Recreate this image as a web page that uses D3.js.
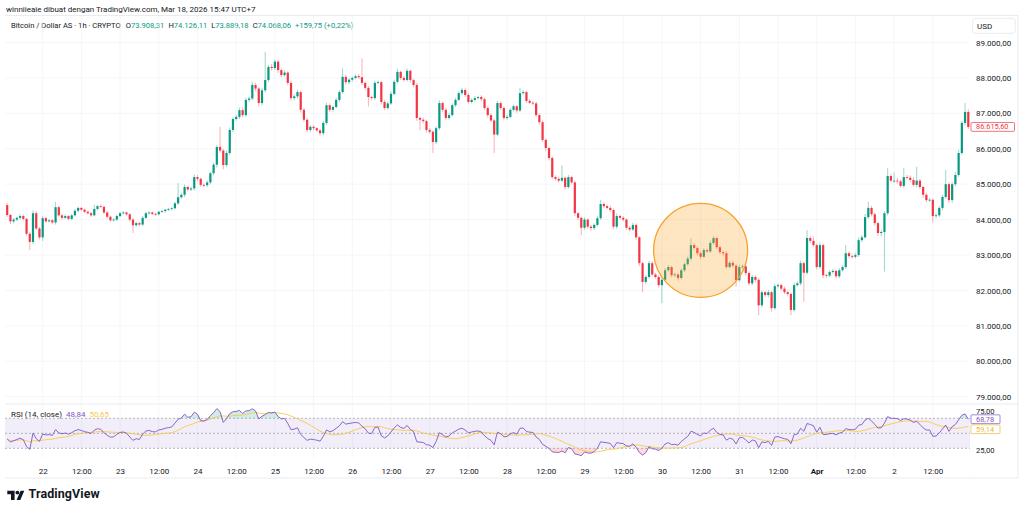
<!DOCTYPE html>
<html>
<head>
<meta charset="utf-8">
<script src="https://cdn.jsdelivr.net/npm/d3@7"></script>
<style>
  html, body { margin: 0; padding: 0; background: #fff; }
  svg { display: block; font-family: Roboto, "Noto Sans", sans-serif; }
</style>
</head>
<body>
<svg id="chart" width="1024" height="514"></svg>
<script>
// hourly closes, thousands of USD, Mar 21 13:00 -> Apr 2 23:00
const closes = [
  84.13, 83.95, 84.00, 84.05, 84.10, 84.02, 83.60, 83.37, 84.18, 83.75,
  83.50, 84.04, 83.95, 83.98, 83.92, 84.35, 84.12, 84.05, 84.10, 84.02,
  84.12, 84.25, 84.33, 84.28, 84.22, 84.18, 84.12, 84.30, 84.38, 84.36,
  84.20, 84.08, 83.98, 84.00, 84.10, 84.18, 84.20, 84.15, 84.00, 83.84,
  83.90, 83.86, 84.05, 84.18, 84.20, 84.16, 84.15, 84.22, 84.24, 84.28,
  84.30, 84.32, 84.46, 84.63, 84.70, 84.92, 84.85, 84.88, 85.20, 85.15,
  84.98, 84.97, 85.05, 85.31, 85.55, 86.05, 85.95, 85.54, 85.88, 86.53,
  86.84, 86.90, 87.09, 86.95, 87.38, 87.42, 87.80, 87.70, 87.29, 87.65,
  87.94, 88.31, 88.28, 88.46, 88.22, 88.08, 88.15, 87.86, 87.43, 87.48,
  87.60, 87.10, 86.82, 86.53, 86.62, 86.58, 86.52, 86.44, 86.73, 87.23,
  87.10, 87.18, 87.38, 87.60, 88.03, 87.88, 87.95, 88.00, 88.05, 88.02,
  87.86, 87.72, 87.46, 87.43, 87.86, 87.88, 87.32, 87.15, 87.28, 87.55,
  87.89, 88.17, 88.00, 87.94, 88.20, 87.94, 87.80, 86.87, 86.82, 86.78,
  86.53, 86.48, 86.19, 86.58, 87.29, 87.10, 86.87, 86.95, 87.23, 87.38,
  87.57, 87.66, 87.52, 87.32, 87.38, 87.43, 87.46, 87.40, 87.15, 86.95,
  86.80, 86.40, 87.29, 87.15, 86.87, 86.90, 87.10, 87.20, 87.08, 87.57,
  87.60, 87.35, 87.30, 87.28, 86.95, 86.75, 86.25, 86.02, 85.74, 85.20,
  85.15, 85.10, 85.18, 84.92, 85.20, 85.05, 84.18, 84.05, 83.77, 84.00,
  83.80, 83.76, 83.85, 84.04, 84.44, 84.38, 84.33, 84.27, 83.80, 84.10,
  84.05, 84.00, 83.77, 83.72, 83.85, 83.50, 82.77, 82.24, 82.38, 82.77,
  82.45, 82.38, 82.15, 82.30, 82.57, 82.66, 82.43, 82.45, 82.35, 82.57,
  82.74, 82.90, 83.28, 83.20, 83.05, 82.95, 83.14, 83.10, 83.34, 83.48,
  83.22, 83.08, 83.05, 82.66, 82.78, 82.70, 82.29, 82.66, 82.68, 82.49,
  82.20, 82.38, 82.30, 81.58, 81.95, 81.87, 81.95, 81.50, 82.12, 82.15,
  82.05, 81.95, 81.90, 81.45, 82.15, 82.20, 82.77, 82.50, 83.48, 83.40,
  83.28, 82.66, 83.28, 82.43, 82.42, 82.52, 82.55, 82.40, 82.57, 82.66,
  83.05, 82.97, 82.95, 83.00, 83.42, 83.50, 84.07, 84.33, 84.15, 83.90,
  83.62, 83.65, 84.18, 85.23, 85.10, 85.10, 85.08, 84.95, 85.20, 85.18,
  85.12, 84.98, 85.10, 84.92, 84.70, 84.55, 84.56, 84.10, 84.12, 84.33,
  84.64, 85.00, 84.55, 85.00, 85.26, 85.88, 86.73, 87.04, 86.6156
];
const firstOpen = 84.41;

// wick lengths beyond the body, USD
const upperWick = [
  60, 40, 50, 30, 60, 40, 30, 50, 80, 60,
  40, 70, 40, 30, 40, 150, 40, 30, 50, 30,
  40, 50, 40, 30, 30, 40, 30, 120, 40, 50,
  30, 40, 30, 40, 40, 30, 40, 30, 30, 40,
  40, 30, 50, 40, 30, 30, 40, 30, 30, 20,
  30, 30, 40, 400, 60, 70, 40, 50, 80, 60,
  40, 40, 50, 40, 60, 50, 570, 40, 60, 70,
  50, 60, 70, 80, 60, 50, 90, 60, 40, 70,
  790, 60, 80, 60, 40, 50, 60, 40, 60, 50,
  60, 40, 50, 40, 50, 40, 30, 40, 60, 70,
  50, 40, 60, 50, 240, 60, 50, 40, 50, 60,
  530, 40, 50, 40, 60, 50, 40, 60, 50, 70,
  60, 80, 40, 50, 60, 40, 30, 50, 40, 60,
  40, 50, 40, 60, 80, 40, 50, 60, 50, 60,
  50, 60, 40, 50, 40, 60, 40, 50, 40, 50,
  40, 50, 60, 50, 40, 60, 40, 50, 40, 150,
  60, 40, 50, 40, 50, 40, 50, 40, 30, 40,
  50, 60, 350, 40, 60, 40, 50, 40, 30, 60,
  40, 50, 40, 60, 110, 50, 40, 60, 40, 70,
  40, 50, 40, 50, 60, 40, 30, 40, 60, 70,
  60, 40, 50, 60, 70, 60, 40, 50, 40, 60,
  50, 60, 200, 60, 40, 50, 60, 40, 70, 60,
  40, 50, 40, 60, 50, 60, 40, 70, 60, 40,
  50, 60, 40, 60, 50, 40, 60, 40, 70, 50,
  40, 60, 50, 40, 70, 60, 80, 50, 220, 60,
  120, 40, 70, 50, 40, 60, 50, 40, 60, 50,
  230, 50, 40, 60, 80, 60, 90, 170, 60, 50,
  40, 60, 60, 220, 60, 230, 80, 50, 250, 60,
  70, 80, 390, 50, 40, 60, 50, 40, 60, 50,
  60, 400, 50, 60, 80, 90, 60, 250, 80
];
const lowerWick = [
  50, 80, 60, 40, 50, 40, 60, 230, 60, 50,
  60, 100, 40, 30, 50, 60, 40, 50, 30, 40,
  40, 30, 50, 40, 30, 40, 50, 30, 40, 30,
  40, 50, 40, 30, 40, 30, 40, 50, 60, 220,
  40, 50, 40, 30, 40, 30, 40, 30, 30, 40,
  30, 40, 30, 50, 40, 60, 50, 40, 60, 70,
  60, 50, 40, 50, 60, 80, 60, 120, 60, 50,
  60, 50, 60, 70, 50, 60, 50, 70, 90, 60,
  60, 50, 70, 60, 80, 60, 50, 70, 80, 60,
  70, 80, 60, 70, 50, 60, 50, 70, 60, 50,
  60, 50, 40, 60, 50, 70, 60, 50, 40, 50,
  60, 70, 270, 60, 50, 40, 70, 60, 50, 40,
  50, 40, 60, 50, 40, 70, 60, 80, 300, 60,
  70, 60, 310, 60, 50, 70, 60, 50, 40, 50,
  40, 50, 60, 50, 40, 50, 40, 60, 50, 70,
  60, 520, 50, 60, 70, 50, 40, 50, 60, 40,
  50, 60, 40, 50, 60, 70, 60, 80, 70, 60,
  50, 60, 40, 70, 50, 60, 80, 70, 210, 50,
  60, 70, 50, 40, 50, 60, 40, 50, 70, 60,
  50, 40, 60, 50, 40, 70, 80, 290, 60, 50,
  60, 50, 70, 510, 50, 40, 60, 50, 70, 40,
  50, 40, 60, 50, 60, 70, 40, 50, 40, 50,
  60, 50, 70, 60, 50, 60, 190, 50, 60, 70,
  60, 50, 70, 280, 60, 50, 70, 100, 50, 60,
  60, 50, 70, 150, 50, 40, 60, 820, 50, 60,
  50, 70, 60, 80, 60, 50, 40, 60, 50, 40,
  50, 60, 50, 40, 50, 60, 40, 50, 60, 70,
  80, 90, 1120, 60, 50, 60, 70, 50, 60, 50,
  60, 50, 70, 60, 80, 60, 50, 190, 60, 50,
  60, 50, 70, 80, 60, 50, 60, 70, 60
];

const priceTicks = [79000, 80000, 81000, 82000, 83000, 84000, 85000, 86000, 87000, 88000, 89000];
const rsiTicks = [75, 25];
const rsiBands = [70, 50, 30];

const headerText = "winniieaie dibuat dengan TradingView.com, Mar 18, 2026 15:47 UTC+7";
const symbolText = "Bitcoin / Dollar AS · 1h · CRYPTO";
const ohlcLabels = ["O", "H", "L", "C"];
const ohlcValues = ["73.908,31", "74.126,11", "73.889,18", "74.068,06"];
const changeText = "+159,75 (+0,22%)";
const rsiTitle = "RSI (14, close)";
const rsiLegend = ["48,84", "50,65"];

// highlighted zone (candle index, price, radius in px)
const highlight = { index: 215, price: 83130, r: 47 };

const UP = "#089981", DOWN = "#f23645", TXT = "#131722";
const PURPLE = "#7e57c2", YELLOW = "#f7c948";

const svg = d3.select("#chart");
const L = 5, R = 970, TOP = 16, SPLIT = 404, RBOT = 458, BOTTOM = 478, EDGE = 1018;

const start = new Date(2025, 2, 21, 13);
const candles = closes.map((c, i) => {
  const close = c * 1000;
  const open = (i === 0 ? firstOpen : closes[i - 1]) * 1000;
  return {
    t: d3.timeHour.offset(start, i), open, close,
    high: Math.max(open, close) + upperWick[i],
    low: Math.min(open, close) - lowerWick[i]
  };
});
const last = candles[candles.length - 1];

const x = d3.scaleTime().domain([candles[0].t, last.t]).range([7.2, 968.3]);
const y = d3.scaleLinear().domain([79000, 89000]).range([396.7, 42.5]);
const yr = d3.scaleLinear().domain([30, 70]).range([448.3, 418.3]);

const loc = d3.formatLocale({ decimal: ",", thousands: ".", grouping: [3], currency: ["", ""] });
const fmtPrice = loc.format(",.2f");
const fmtRsi = loc.format(".2f");

// RSI 14 (Wilder) and its 14 SMA
let ag = 60, al = 60;
const rsi = candles.map(d => {
  const ch = d.close - d.open;
  ag = (ag * 13 + Math.max(ch, 0)) / 14;
  al = (al * 13 + Math.max(-ch, 0)) / 14;
  return 100 - 100 / (1 + ag / al);
});
const rsiMa = rsi.map((v, i) => d3.mean(rsi.slice(Math.max(0, i - 13), i + 1)));

const defs = svg.append("defs");
defs.append("clipPath").attr("id", "clipP").append("rect")
  .attr("x", L).attr("y", TOP).attr("width", R - L).attr("height", SPLIT - TOP);
defs.append("clipPath").attr("id", "clipR").append("rect")
  .attr("x", L).attr("y", SPLIT).attr("width", R - L).attr("height", RBOT - SPLIT);
defs.append("clipPath").attr("id", "clipT").append("rect")
  .attr("x", 0).attr("y", SPLIT).attr("width", R).attr("height", BOTTOM - SPLIT);

// header
svg.append("text").attr("x", 6).attr("y", 12).attr("font-size", 8).attr("fill", TXT).text(headerText);
const sym = svg.append("text").attr("x", 11).attr("y", 28).attr("font-size", 7.6).attr("fill", TXT);
sym.append("tspan").text(symbolText);
ohlcLabels.forEach((lab, i) => {
  sym.append("tspan").attr("dx", i === 0 ? 5 : 4).attr("fill", TXT).text(lab);
  sym.append("tspan").attr("fill", UP).text(ohlcValues[i]);
});
sym.append("tspan").attr("dx", 4).attr("fill", UP).text(changeText);

// frame
svg.append("line").attr("x1", L).attr("x2", EDGE).attr("y1", TOP - 0.5).attr("y2", TOP - 0.5)
  .attr("stroke", "#e0e3eb").attr("stroke-width", 0.7);
svg.append("line").attr("x1", L).attr("x2", EDGE).attr("y1", BOTTOM).attr("y2", BOTTOM)
  .attr("stroke", "#e0e3eb").attr("stroke-width", 0.7);
svg.append("line").attr("x1", EDGE).attr("x2", EDGE).attr("y1", TOP - 0.5).attr("y2", BOTTOM)
  .attr("stroke", "#e0e3eb").attr("stroke-width", 0.7);
svg.append("line").attr("x1", L).attr("x2", EDGE).attr("y1", SPLIT).attr("y2", SPLIT)
  .attr("stroke", "#e0e3eb").attr("stroke-width", 0.7);

// grid
const timeTicks = d3.timeHour.every(12).range(candles[0].t, d3.timeHour.offset(last.t, 2));
const grid = svg.append("g").attr("stroke", "#f0f2f5").attr("stroke-width", 0.7);
grid.selectAll(".h").data(priceTicks).join("line").attr("class", "h")
  .attr("x1", L).attr("x2", R).attr("y1", d => y(d)).attr("y2", d => y(d));
grid.selectAll(".v").data(timeTicks.filter(t => x(t) < R)).join("line").attr("class", "v")
  .attr("x1", d => x(d)).attr("x2", d => x(d)).attr("y1", TOP).attr("y2", RBOT);

// candles
const color = d => d.close >= d.open ? UP : DOWN;
const gC = svg.append("g").attr("clip-path", "url(#clipP)");
gC.selectAll("line").data(candles).join("line")
  .attr("x1", d => x(d.t)).attr("x2", d => x(d.t))
  .attr("y1", d => y(d.high)).attr("y2", d => y(d.low))
  .attr("stroke", color).attr("stroke-width", 0.8).attr("stroke-opacity", 0.5);
const bw = 2.2;
gC.selectAll("rect").data(candles).join("rect")
  .attr("x", d => x(d.t) - bw / 2).attr("width", bw)
  .attr("y", d => y(Math.max(d.open, d.close)))
  .attr("height", d => Math.max(0.8, Math.abs(y(d.open) - y(d.close))))
  .attr("fill", color);

// highlight circle
svg.append("circle")
  .attr("cx", x(candles[highlight.index].t)).attr("cy", y(highlight.price)).attr("r", highlight.r)
  .attr("fill", "rgba(255,167,38,0.28)").attr("stroke", "#f9a02a").attr("stroke-width", 1.3);

// RSI pane
const gR = svg.append("g").attr("clip-path", "url(#clipR)");
gR.append("rect").attr("x", L).attr("width", R - L)
  .attr("y", yr(70)).attr("height", yr(30) - yr(70)).attr("fill", "rgba(126,87,194,0.1)");
gR.selectAll(".band").data(rsiBands).join("line").attr("class", "band")
  .attr("x1", L).attr("x2", R).attr("y1", d => yr(d)).attr("y2", d => yr(d))
  .attr("stroke", "#9598a1").attr("stroke-width", 0.7).attr("stroke-dasharray", "2,2");
const xi = (d, i) => x(candles[i].t);
gR.append("path").datum(rsi)
  .attr("d", d3.area().x(xi).y0(yr(70)).y1(v => yr(Math.max(v, 70))))
  .attr("fill", "rgba(8,153,129,0.18)");
gR.append("path").datum(rsi)
  .attr("d", d3.area().x(xi).y0(yr(30)).y1(v => yr(Math.min(v, 30))))
  .attr("fill", "rgba(242,54,69,0.18)");
gR.append("path").datum(rsiMa).attr("d", d3.line().x(xi).y(v => yr(v)))
  .attr("fill", "none").attr("stroke", YELLOW).attr("stroke-width", 0.9);
gR.append("path").datum(rsi).attr("d", d3.line().x(xi).y(v => yr(v)))
  .attr("fill", "none").attr("stroke", PURPLE).attr("stroke-width", 0.9);

const leg = svg.append("text").attr("x", 11).attr("y", 416.5).attr("font-size", 8).attr("fill", TXT);
leg.append("tspan").text(rsiTitle);
leg.append("tspan").attr("dx", 4).attr("fill", PURPLE).text(rsiLegend[0]);
leg.append("tspan").attr("dx", 4).attr("fill", YELLOW).text(rsiLegend[1]);

// price axis
const axP = svg.append("g").attr("transform", `translate(976,0)`)
  .call(d3.axisRight(y).tickValues(priceTicks).tickSize(0).tickPadding(0).tickFormat(fmtPrice));
axP.select(".domain").remove();
axP.selectAll("text").attr("font-size", 8).attr("fill", TXT).attr("font-family", "Roboto");

const axR = svg.append("g").attr("transform", `translate(976,-3.6)`)
  .call(d3.axisRight(yr).tickValues(rsiTicks).tickSize(0).tickPadding(0).tickFormat(fmtRsi));
axR.select(".domain").remove();
axR.selectAll("text").attr("font-size", 7.6).attr("fill", TXT).attr("font-family", "Roboto");
axR.selectAll(".tick").filter(d => d < 50).attr("transform", d => `translate(0,${yr(d) + 2.5})`);

// USD box
svg.append("rect").attr("x", 972.7).attr("y", 18.3).attr("width", 42.5).attr("height", 15).attr("rx", 2.5)
  .attr("fill", "#fff").attr("stroke", "#e0e3eb").attr("stroke-width", 0.7);
svg.append("text").attr("x", 977).attr("y", 28.6).attr("font-size", 8).attr("fill", TXT).text("USD");

// value labels
function tag(val, yy, col, w) {
  svg.append("rect").attr("x", 971).attr("y", yy - 4.4).attr("width", w).attr("height", 8.8).attr("rx", 1)
    .attr("fill", "#fff").attr("stroke", col).attr("stroke-width", 0.7);
  svg.append("text").attr("x", 976).attr("y", yy).attr("dy", "0.33em").attr("font-size", 7.4)
    .attr("fill", col).text(val);
}
tag(fmtPrice(last.close), y(last.close), DOWN, 43.5);
const lastRsi = rsi[rsi.length - 1], lastMa = rsiMa[rsiMa.length - 1];
const yRsi = yr(lastRsi);
let yMa = yr(lastMa);
if (Math.abs(yMa - yRsi) < 10) yMa = yMa > yRsi ? yRsi + 10 : yRsi - 10;
tag(fmtRsi(lastRsi), yRsi, PURPLE, 29);
tag(fmtRsi(lastMa), yMa, "#e9b93a", 29);

// time axis
const fmtTime = d => d.getHours() === 12 ? "12:00" : d.getDate() === 1 ? d3.timeFormat("%b")(d) : String(d.getDate());
const axT = svg.append("g").attr("clip-path", "url(#clipT)").append("g")
  .attr("transform", `translate(0,${467.9})`)
  .call(d3.axisBottom(x).tickValues(timeTicks).tickSize(0).tickPadding(0).tickFormat(fmtTime));
axT.select(".domain").remove();
axT.selectAll("text").attr("font-size", 8).attr("fill", TXT).attr("font-family", "Roboto")
  .attr("font-weight", d => d.getHours() !== 12 && d.getDate() === 1 ? 700 : 400);

// logo
const logo = svg.append("g").attr("fill", "#131722");
logo.append("path").attr("d", "M7.3,490.7H14.6V500H11V494.3H7.3Z");
logo.append("circle").attr("cx", 17.4).attr("cy", 492.6).attr("r", 1.9);
logo.append("path").attr("d", "M20.6,490.7H24.3L20.3,500H16.6Z");
logo.append("text").attr("x", 28.5).attr("y", 498.3).attr("font-size", 12.5).attr("font-weight", 700)
  .attr("letter-spacing", 0.1).text("TradingView");
</script>
</body>
</html>
